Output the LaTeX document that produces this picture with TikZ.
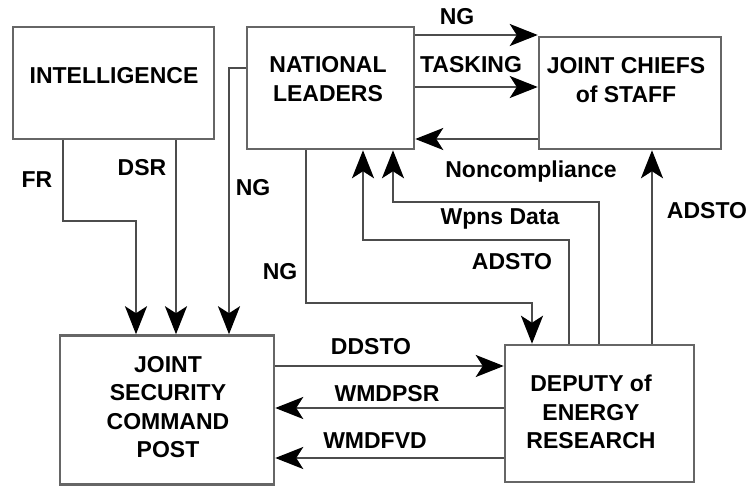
\documentclass[tikz,border=0pt]{standalone}
\usepackage{fontspec}
\setmainfont{Liberation Sans}
\usetikzlibrary{arrows.meta,calc}
\begin{document}
\begin{tikzpicture}[x=1pt,y=-1pt,
 box/.style={draw=black!60, line width=2.5pt, fill=white, inner sep=0pt},
 txt/.style={font=\fontsize{23}{28.5}\selectfont\bfseries, align=center, inner sep=0pt},
 lbl/.style={font=\fontsize{23}{28}\selectfont\bfseries, inner sep=0pt},
 conn/.style={draw=black!70, line width=2.3pt, -{Stealth[length=28pt,width=22pt,inset=7pt,color=black]}}]
\useasboundingbox (0,0) rectangle (756,487);
% boxes
\node[box, minimum width=201pt, minimum height=112pt] (intel) at (113.5,83) {};
\node[box, minimum width=167pt, minimum height=122pt] (nl) at (330.5,88) {};
\node[box, minimum width=182pt, minimum height=112pt] (jcs) at (630,93) {};
\node[box, minimum width=214pt, minimum height=149pt] (jscp) at (167,410) {};
\node[box, minimum width=189pt, minimum height=137pt] (der) at (599.5,413.5) {};
% box texts
\node[txt] (intel-t) at (114,76) {INTELLIGENCE};
\node[txt] (nl-t) at (328,79) {NATIONAL\\LEADERS};
\node[txt] (jcs-t) at (626,80) {JOINT CHIEFS\\of STAFF};
\node[txt] (jscp-t) at (168,407) {JOINT\\SECURITY\\COMMAND\\POST};
\node[txt] (der-t) at (591,412) {DEPUTY of\\ENERGY\\RESEARCH};
% connectors
\draw[conn] (63,0 |- intel.south) |- (136,221) -- (136,0 |- jscp.north);
\draw[conn] (176,0 |- intel.south) -- (176,0 |- jscp.north);
\draw[conn] (nl.west |- 0,68) -| (229,0 |- jscp.north);
\draw[conn] (306,0 |- nl.south) |- (532,303) -- (532,0 |- der.north);
\draw[conn] (569,0 |- der.north) |- (363,240) -- (363,0 |- nl.south);
\draw[conn] (599,0 |- der.north) |- (393,202) -- (393,0 |- nl.south);
\draw[conn] (652,0 |- der.north) -- (652,0 |- jcs.south);
\draw[conn] (nl.east |- 0,35) -- (jcs.west |- 0,35);
\draw[conn] (nl.east |- 0,87) -- (jcs.west |- 0,87);
\draw[conn] (jcs.west |- 0,139) -- (nl.east |- 0,139);
\draw[conn] (jscp.east |- 0,366) -- (der.west |- 0,366);
\draw[conn] (der.west |- 0,408) -- (jscp.east |- 0,408);
\draw[conn] (der.west |- 0,458) -- (jscp.east |- 0,458);
% labels
\node[lbl] (l-fr) at (37,180) {FR};
\node[lbl] (l-dsr) at (142,168) {DSR};
\node[lbl] (l-ng1) at (253,188) {NG};
\node[lbl] (l-ng2) at (280,272) {NG};
\node[lbl] (l-ng3) at (457,17) {NG};
\node[lbl] (l-task) at (471,65) {TASKING};
\node[lbl] (l-nonc) at (531,172) {Noncompliance};
\node[lbl] (l-wpns) at (500,219) {Wpns Data};
\node[lbl] (l-adsto1) at (707,211) {ADSTO};
\node[lbl] (l-adsto2) at (512,262) {ADSTO};
\node[lbl] (l-ddsto) at (371,347) {DDSTO};
\node[lbl] (l-wmdpsr) at (387,394) {WMDPSR};
\node[lbl] (l-wmdfvd) at (375,441) {WMDFVD};
\end{tikzpicture}
\end{document}
